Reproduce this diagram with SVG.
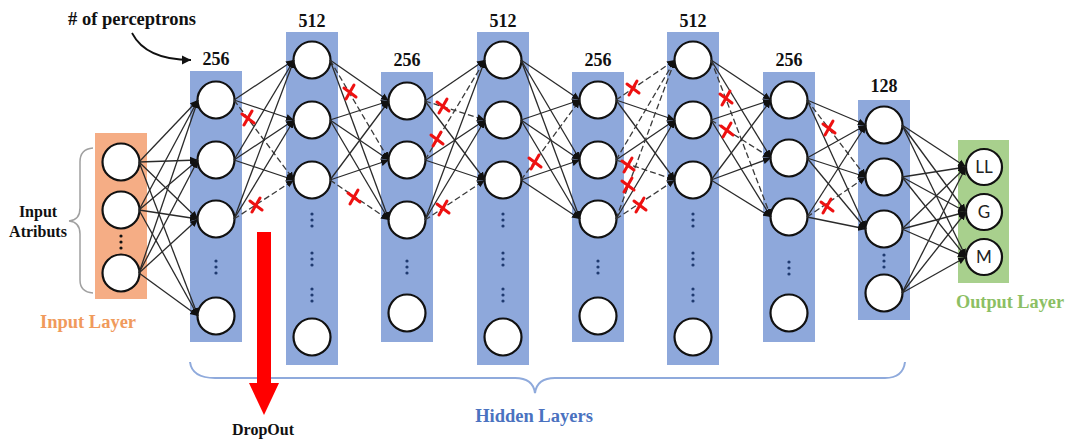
<svg xmlns="http://www.w3.org/2000/svg" xmlns:xlink="http://www.w3.org/1999/xlink" width="1067" height="439" viewBox="0 0 1067 439">
<style>
.hl{fill:#8EA8DB}
.nd{fill:#fff;stroke:#111;stroke-width:2.2}
.c{stroke:#2a2a2a;stroke-width:1.3;fill:none;marker-end:url(#ah)}
.d{stroke:#3a3a3a;stroke-width:1.3;fill:none;stroke-dasharray:6 3;marker-end:url(#ah)}
.t{font-family:"Liberation Serif","Times New Roman",serif;font-weight:bold}
.num{font-size:18px;fill:#111;text-anchor:middle}
.dot{fill:#1F3A70}
.xm{stroke:#EE1111;stroke-width:3;stroke-linecap:round;fill:none}
.ol{font-family:Lato,"Open Sans",sans-serif;font-size:17px;fill:#222;text-anchor:middle}
</style>
<defs>
<marker id="ah" markerUnits="userSpaceOnUse" markerWidth="8" markerHeight="8" refX="8" refY="4" orient="auto"><path d="M0,0.5 L8,4 L0,7.5 z" fill="#111"/></marker>
<marker id="ah2" markerUnits="userSpaceOnUse" markerWidth="10" markerHeight="10" refX="9" refY="5" orient="auto"><path d="M0,0.5 L9,5 L0,9.5 z" fill="#111"/></marker>
<path id="xs" class="xm" d="M-6,-4 L6,5 M4,-7 L-4,7"/>
<g id="d3"><circle class="dot" cx="0" cy="-6" r="1.6"/><circle class="dot" cx="0" cy="0" r="1.6"/><circle class="dot" cx="0" cy="6" r="1.6"/></g>
</defs>
<rect width="1067" height="439" fill="#fff"/>

<!-- annotations -->
<g id="annotation">
<text class="t" x="132" y="25" font-size="18.5" text-anchor="middle" fill="#111"># of perceptrons</text>
<path d="M132,33 Q146,60 191,60" stroke="#111" stroke-width="1.8" fill="none" marker-end="url(#ah2)"/>
</g>

<!-- input layer -->
<g id="input-layer">
<rect x="95" y="133" width="52" height="166" fill="#F5AD85"/>
<circle class="nd" cx="121" cy="162" r="18.5"/>
<circle class="nd" cx="121" cy="210" r="18.5"/>
<circle class="nd" cx="121" cy="273" r="18.5"/>
<g fill="#111"><circle cx="121" cy="236" r="1.6"/><circle cx="121" cy="242" r="1.6"/><circle cx="121" cy="248" r="1.6"/></g>
<text class="t" x="88" y="328" font-size="18.5" text-anchor="middle" fill="#F09A5C">Input Layer</text>
<path d="M93,148 Q80,149 80,162 L80,208 Q80,220 69,221 Q80,222 80,234 L80,280 Q80,292 93,293" stroke="#A0A0A0" stroke-width="1.5" fill="none"/>
<text class="t" x="38" y="217" font-size="16" text-anchor="middle" fill="#111">Input</text>
<text class="t" x="38" y="237" font-size="16" text-anchor="middle" fill="#111">Atributs</text>
</g>

<!-- hidden layers -->
<g id="h1">
<rect class="hl" x="190" y="71" width="52" height="271"/>
<text class="t num" x="216" y="65">256</text>
<circle class="nd" cx="216" cy="100" r="18.5"/><circle class="nd" cx="216" cy="160" r="18.5"/><circle class="nd" cx="216" cy="219" r="18.5"/><circle class="nd" cx="216" cy="316" r="18.5"/>
<use xlink:href="#d3" x="216" y="267"/>
</g>
<g id="h2">
<rect class="hl" x="286" y="32" width="52" height="333"/>
<text class="t num" x="312" y="27">512</text>
<circle class="nd" cx="312" cy="60" r="18.5"/><circle class="nd" cx="312" cy="120" r="18.5"/><circle class="nd" cx="312" cy="180" r="18.5"/><circle class="nd" cx="312" cy="337" r="18.5"/>
<use xlink:href="#d3" x="312" y="220"/><use xlink:href="#d3" x="312" y="259"/><use xlink:href="#d3" x="312" y="295"/>
</g>
<g id="h3">
<rect class="hl" x="381" y="72" width="52" height="270"/>
<text class="t num" x="407" y="66">256</text>
<circle class="nd" cx="407" cy="101" r="18.5"/><circle class="nd" cx="407" cy="160" r="18.5"/><circle class="nd" cx="407" cy="220" r="18.5"/><circle class="nd" cx="407" cy="313" r="18.5"/>
<use xlink:href="#d3" x="407" y="267"/>
</g>
<g id="h4">
<rect class="hl" x="477" y="32" width="52" height="333"/>
<text class="t num" x="503" y="27">512</text>
<circle class="nd" cx="503" cy="60" r="18.5"/><circle class="nd" cx="503" cy="120" r="18.5"/><circle class="nd" cx="503" cy="180" r="18.5"/><circle class="nd" cx="503" cy="337" r="18.5"/>
<use xlink:href="#d3" x="503" y="220"/><use xlink:href="#d3" x="503" y="259"/><use xlink:href="#d3" x="503" y="295"/>
</g>
<g id="h5">
<rect class="hl" x="572" y="72" width="52" height="270"/>
<text class="t num" x="598" y="66">256</text>
<circle class="nd" cx="598" cy="100" r="18.5"/><circle class="nd" cx="598" cy="160" r="18.5"/><circle class="nd" cx="598" cy="219" r="18.5"/><circle class="nd" cx="598" cy="316" r="18.5"/>
<use xlink:href="#d3" x="598" y="267"/>
</g>
<g id="h6">
<rect class="hl" x="667" y="32" width="52" height="333"/>
<text class="t num" x="693" y="27">512</text>
<circle class="nd" cx="693" cy="60" r="18.5"/><circle class="nd" cx="693" cy="120" r="18.5"/><circle class="nd" cx="693" cy="180" r="18.5"/><circle class="nd" cx="693" cy="337" r="18.5"/>
<use xlink:href="#d3" x="693" y="220"/><use xlink:href="#d3" x="693" y="259"/><use xlink:href="#d3" x="693" y="295"/>
</g>
<g id="h7">
<rect class="hl" x="763" y="72" width="52" height="270"/>
<text class="t num" x="789" y="66">256</text>
<circle class="nd" cx="789" cy="100" r="18.5"/><circle class="nd" cx="789" cy="158" r="18.5"/><circle class="nd" cx="789" cy="217" r="18.5"/><circle class="nd" cx="789" cy="313" r="18.5"/>
<use xlink:href="#d3" x="789" y="268"/>
</g>
<g id="h8">
<rect class="hl" x="858" y="100" width="52" height="220"/>
<text class="t num" x="884" y="92">128</text>
<circle class="nd" cx="884" cy="125" r="18.5"/><circle class="nd" cx="884" cy="177" r="18.5"/><circle class="nd" cx="884" cy="229" r="18.5"/><circle class="nd" cx="884" cy="293" r="18.5"/>
<use xlink:href="#d3" x="884" y="261"/>
</g>

<!-- output layer -->
<g id="output-layer">
<rect x="958" y="140" width="51" height="143" fill="#A8D08D"/>
<circle class="nd" cx="984" cy="167" r="18"/><circle class="nd" cx="984" cy="212" r="18"/><circle class="nd" cx="984" cy="257" r="18"/>
<text class="ol" x="984" y="173">LL</text>
<text class="ol" x="984" y="218">G</text>
<text class="ol" x="984" y="263">M</text>
<text class="t" x="1010" y="308" font-size="18.3" text-anchor="middle" fill="#8CBF64">Output Layer</text>
</g>

<!-- connectors -->
<g id="connectors">
<!-- L0 -> L1 -->
<path class="c" d="M139,162 L198,100"/><path class="c" d="M139,162 L198,160"/><path class="c" d="M139,162 L198,219"/><path class="c" d="M139,162 L198,316"/>
<path class="c" d="M139,210 L198,100"/><path class="c" d="M139,210 L198,160"/><path class="c" d="M139,210 L198,219"/><path class="c" d="M139,210 L198,316"/>
<path class="c" d="M139,273 L198,100"/><path class="c" d="M139,273 L198,160"/><path class="c" d="M139,273 L198,219"/><path class="c" d="M139,273 L198,316"/>
<!-- L1 -> L2 -->
<path class="c" d="M234,100 L294,60"/><path class="c" d="M234,100 L294,120"/><path class="d" d="M234,100 L294,180"/>
<path class="c" d="M234,160 L294,60"/><path class="c" d="M234,160 L294,120"/><path class="c" d="M234,160 L294,180"/>
<path class="c" d="M234,219 L294,60"/><path class="c" d="M234,219 L294,120"/><path class="d" d="M234,219 L294,180"/>
<!-- L2 -> L3 -->
<path class="c" d="M330,60 L389,101"/><path class="d" d="M330,60 L389,160"/><path class="c" d="M330,60 L389,220"/>
<path class="c" d="M330,120 L389,101"/><path class="c" d="M330,120 L389,160"/><path class="c" d="M330,120 L389,220"/>
<path class="c" d="M330,180 L389,101"/><path class="c" d="M330,180 L389,160"/><path class="d" d="M330,180 L389,220"/>
<!-- L3 -> L4 -->
<path class="c" d="M425,101 L485,60"/><path class="d" d="M425,101 L485,120"/><path class="c" d="M425,101 L485,180"/>
<path class="d" d="M425,160 L485,60"/><path class="c" d="M425,160 L485,120"/><path class="c" d="M425,160 L485,180"/>
<path class="c" d="M425,220 L485,60"/><path class="c" d="M425,220 L485,120"/><path class="d" d="M425,220 L485,180"/>
<!-- L4 -> L5 -->
<path class="c" d="M521,60 L580,100"/><path class="c" d="M521,60 L580,160"/><path class="c" d="M521,60 L580,219"/>
<path class="c" d="M521,120 L580,100"/><path class="c" d="M521,120 L580,160"/><path class="c" d="M521,120 L580,219"/>
<path class="d" d="M521,180 L580,100"/><path class="c" d="M521,180 L580,160"/><path class="c" d="M521,180 L580,219"/>
<!-- L5 -> L6 -->
<path class="d" d="M616,100 L675,60"/><path class="c" d="M616,100 L675,120"/><path class="c" d="M616,100 L675,180"/>
<path class="d" d="M616,160 L675,60"/><path class="c" d="M616,160 L675,120"/><path class="d" d="M616,160 L675,180"/>
<path class="d" d="M616,219 L675,60"/><path class="c" d="M616,219 L675,120"/><path class="d" d="M616,219 L675,180"/>
<!-- L6 -> L7 -->
<path class="c" d="M711,60 L771,100"/><path class="c" d="M711,60 L771,158"/><path class="d" d="M711,60 L771,217"/>
<path class="c" d="M711,120 L771,100"/><path class="d" d="M711,120 L771,158"/><path class="c" d="M711,120 L771,217"/>
<path class="c" d="M711,180 L771,100"/><path class="c" d="M711,180 L771,158"/><path class="c" d="M711,180 L771,217"/>
<!-- L7 -> L8 -->
<path class="c" d="M807,100 L866,125"/><path class="d" d="M807,100 L866,177"/><path class="c" d="M807,100 L866,229"/>
<path class="c" d="M807,158 L866,125"/><path class="c" d="M807,158 L866,177"/><path class="c" d="M807,158 L866,229"/>
<path class="c" d="M807,217 L866,125"/><path class="d" d="M807,217 L866,177"/><path class="c" d="M807,217 L866,229"/>
<!-- L8 -> Out -->
<path class="c" d="M902,125 L966,167"/><path class="c" d="M902,125 L966,212"/><path class="c" d="M902,125 L966,257"/>
<path class="c" d="M902,177 L966,167"/><path class="c" d="M902,177 L966,212"/><path class="c" d="M902,177 L966,257"/>
<path class="c" d="M902,229 L966,167"/><path class="c" d="M902,229 L966,212"/><path class="c" d="M902,229 L966,257"/>
<path class="c" d="M902,293 L966,167"/><path class="c" d="M902,293 L966,212"/><path class="c" d="M902,293 L966,257"/>
</g>

<!-- dropout marks -->
<g id="dropout-marks">
<use xlink:href="#xs" x="248" y="118"/><use xlink:href="#xs" x="256" y="205"/>
<use xlink:href="#xs" x="350" y="92"/><use xlink:href="#xs" x="354" y="197"/>
<use xlink:href="#xs" x="443" y="106"/><use xlink:href="#xs" x="437" y="139"/><use xlink:href="#xs" x="443" y="208"/>
<use xlink:href="#xs" x="535" y="162"/>
<use xlink:href="#xs" x="633" y="88"/><use xlink:href="#xs" x="628" y="165"/><use xlink:href="#xs" x="628" y="185"/><use xlink:href="#xs" x="640" y="205"/>
<use xlink:href="#xs" x="726" y="98"/><use xlink:href="#xs" x="727" y="130"/>
<use xlink:href="#xs" x="829" y="128"/><use xlink:href="#xs" x="827" y="206"/>
</g>

<!-- hidden layers brace -->
<g id="hidden-brace">
<path d="M190,362 Q192,378 215,378 L515,378 Q533,378 535,393 Q537,378 555,378 L885,378 Q903,378 905,362" stroke="#8FAADC" stroke-width="2" fill="none"/>
<text class="t" x="534" y="422" font-size="18.5" text-anchor="middle" fill="#4A72C0">Hidden Layers</text>
</g>

<!-- dropout arrow -->
<g id="dropout">
<rect x="257" y="232" width="14" height="152" fill="#FF0000"/>
<polygon points="249,383 279,383 264,415" fill="#FF0000"/>
<text class="t" x="263" y="435" font-size="16" text-anchor="middle" fill="#111">DropOut</text>
</g>
</svg>
